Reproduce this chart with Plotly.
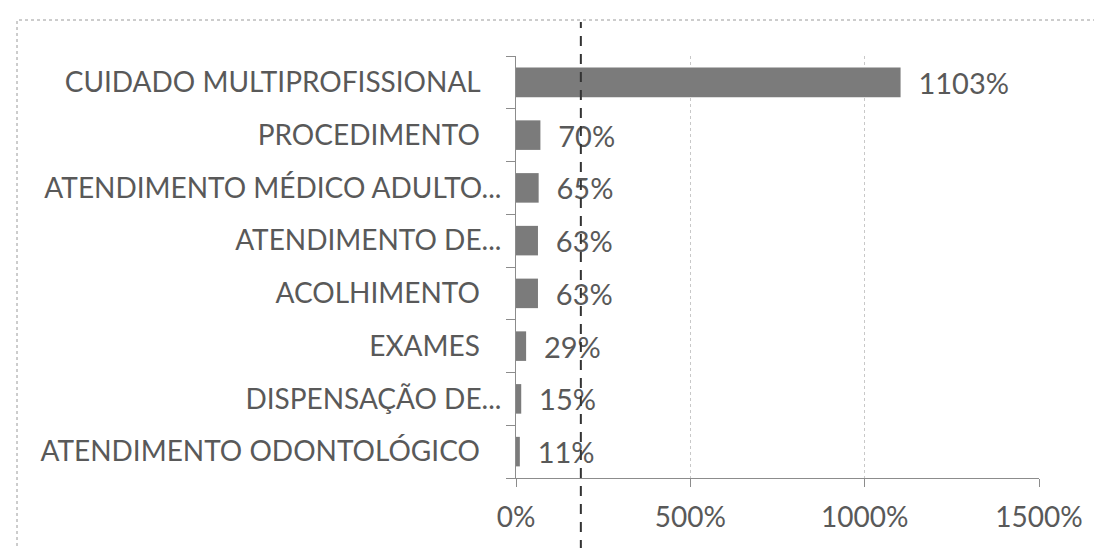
import plotly.graph_objects as go

categories = [
    "CUIDADO MULTIPROFISSIONAL",
    "PROCEDIMENTO",
    "ATENDIMENTO MÉDICO ADULTO...",
    "ATENDIMENTO DE...",
    "ACOLHIMENTO",
    "EXAMES",
    "DISPENSAÇÃO DE...",
    "ATENDIMENTO ODONTOLÓGICO",
]
values = [1103, 70, 65, 63, 63, 29, 15, 11]
x_tickvals = [0, 500, 1000, 1500]
x_ticktext = ["0%", "500%", "1000%", "1500%"]
ref_line_x = 186  # dashed vertical line

W, H = 1102, 548
L, R, T, B = 508, 71, 48, 78
TXT = "#595959"
FONT = "Lato"


def pxx(p):
    return (p - L) / (W - L - R)


def pxy(p):
    return 1 - (p - T) / (H - T - B)


ticktext = [c if c.endswith("...") else c + "\u00a0\u00a0\u00a0" for c in categories]

fig = go.Figure()
fig.add_trace(go.Bar(
    y=categories,
    x=values,
    orientation="h",
    marker=dict(color="#7b7b7b", line=dict(width=0)),
    text=["\u00a0\u00a0" + f"{v}%" for v in values],
    textposition="outside",
    constraintext="none",
    textfont=dict(family=FONT, size=29, color=TXT),
    cliponaxis=False,
    width=0.56,
))

fig.update_layout(
    width=W, height=H,
    margin=dict(l=L, r=R, t=T, b=B),
    plot_bgcolor="white", paper_bgcolor="white",
    showlegend=False,
    font=dict(family=FONT, size=28, color=TXT),
    xaxis=dict(
        range=[0, 1500], tickvals=x_tickvals, ticktext=x_ticktext,
        showgrid=True, gridcolor="#c8c8c8", griddash="dot", gridwidth=1,
        showline=True, linecolor="#8c8c8c", linewidth=1,
        ticks="outside", ticklen=8, tickcolor="#8c8c8c",
        zeroline=False, fixedrange=True,
        tickfont=dict(family=FONT, size=28, color=TXT),
        ticklabelstandoff=6,
    ),
    yaxis=dict(
        categoryorder="array", categoryarray=categories,
        tickvals=categories, ticktext=ticktext,
        autorange="reversed",
        showline=True, linecolor="#8c8c8c", linewidth=1,
        ticks="outside", ticklen=9, tickcolor="#8c8c8c", tickson="boundaries",
        showgrid=False, zeroline=False,
        tickfont=dict(family=FONT, size=28, color=TXT),
        ticklabelstandoff=8,
    ),
    shapes=[
        dict(type="rect", xref="paper", yref="paper",
             x0=pxx(9), x1=pxx(1110), y0=pxy(545), y1=pxy(12),
             line=dict(color="#9a9a9a", width=1, dash="dot"), layer="below"),
        dict(type="line", xref="x", yref="paper",
             x0=ref_line_x, x1=ref_line_x, y0=pxy(560), y1=pxy(14),
             line=dict(color="#333333", width=2, dash="10px,8px")),
    ],
)

fig.write_html("out.html")
